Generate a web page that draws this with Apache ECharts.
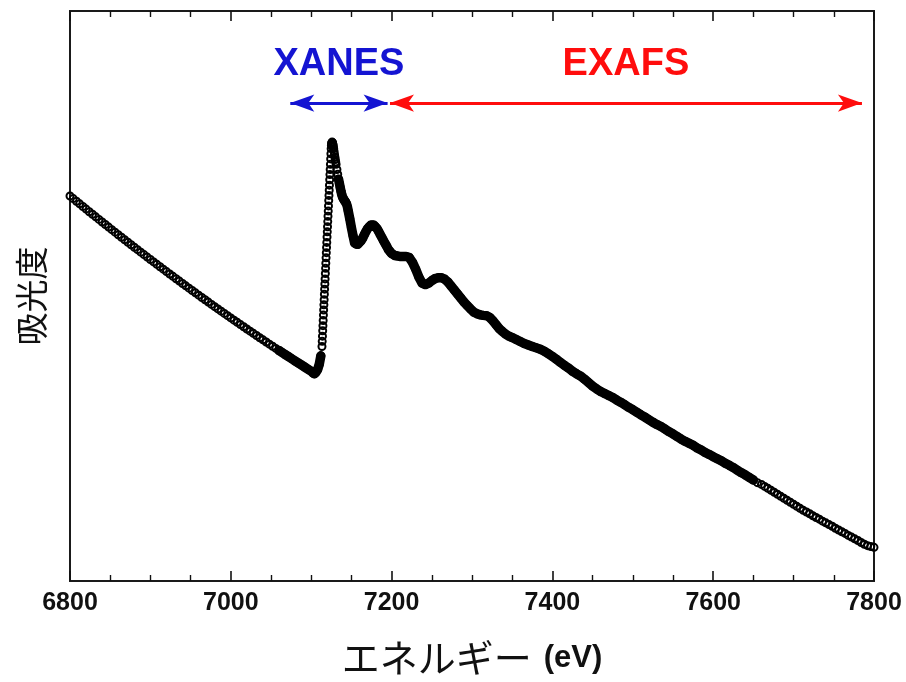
<!DOCTYPE html>
<html>
<head>
<meta charset="utf-8">
<script src="https://cdn.jsdelivr.net/npm/echarts@6/dist/echarts.min.js"></script>
<style>
  html, body { margin: 0; padding: 0; background: #ffffff; }
  #chart { width: 906px; height: 682px; }
</style>
</head>
<body>
<div id="chart"></div>
<script>
// ---- Fe K-edge absorption spectrum (energy in eV, absorbance in arb. units) ----

// pre-edge region
const preEdgeEnergy = [
  6800, 6804, 6808, 6812, 6816, 6820, 6824, 6828, 6832, 6836,
  6840, 6844, 6848, 6852, 6856, 6860, 6864, 6868, 6872, 6876,
  6880, 6884, 6888, 6892, 6896, 6900, 6904, 6908, 6912, 6916,
  6920, 6924, 6928, 6932, 6936, 6940, 6944, 6948, 6952, 6956,
  6960, 6964, 6968, 6972, 6976, 6980, 6984, 6988, 6992, 6996,
  7000, 7004, 7008, 7012, 7016, 7020, 7024, 7028, 7032, 7036,
  7040, 7044, 7048, 7052, 7056, 7060, 7064, 7068, 7072, 7076,
  7080, 7084, 7088, 7092, 7096, 7100,
  7102, 7104, 7106, 7108, 7110, 7112
];
const preEdgeAbs = [
  1.3510, 1.3417, 1.3325, 1.3233, 1.3141, 1.3050, 1.2958, 1.2868, 1.2777, 1.2687,
  1.2597, 1.2507, 1.2417, 1.2328, 1.2239, 1.2151, 1.2062, 1.1974, 1.1887, 1.1799,
  1.1712, 1.1625, 1.1538, 1.1452, 1.1366, 1.1281, 1.1195, 1.1110, 1.1025, 1.0941,
  1.0856, 1.0772, 1.0689, 1.0605, 1.0522, 1.0439, 1.0357, 1.0274, 1.0192, 1.0111,
  1.0029, 0.9948, 0.9867, 0.9787, 0.9706, 0.9627, 0.9547, 0.9467, 0.9388, 0.9310,
  0.9231, 0.9153, 0.9075, 0.8997, 0.8920, 0.8843, 0.8766, 0.8689, 0.8613, 0.8537,
  0.8462, 0.8386, 0.8311, 0.8236, 0.8162, 0.8088, 0.8014, 0.7940, 0.7867, 0.7794,
  0.7721, 0.7649, 0.7576, 0.7505, 0.7433, 0.7362,
  0.730, 0.727, 0.731, 0.742, 0.760, 0.790
];

// absorption edge and white line
const edgeEnergy = [
  7113.4, 7113.7, 7114.0, 7114.3, 7114.6, 7114.9, 7115.2, 7115.5, 7115.8, 7116.1,
  7116.4, 7116.7, 7117.0, 7117.3, 7117.6, 7117.9, 7118.2, 7118.5, 7118.8, 7119.1,
  7119.4, 7119.7, 7120.0, 7120.3, 7120.6, 7120.9, 7121.2, 7121.5, 7121.8, 7122.1,
  7122.4, 7122.7, 7123.0, 7123.3, 7123.6, 7123.9, 7124.2, 7124.5, 7124.8, 7125.1,
  7125.4, 7125.7, 7126.0, 7126.3, 7126.6, 7126.9, 7127.2
];
const edgeAbs = [
  0.823, 0.841, 0.859, 0.878, 0.896, 0.914, 0.933, 0.951, 0.969, 0.987,
  1.006, 1.024, 1.042, 1.060, 1.079, 1.097, 1.115, 1.134, 1.152, 1.170,
  1.188, 1.207, 1.225, 1.243, 1.261, 1.280, 1.298, 1.316, 1.335, 1.353,
  1.371, 1.389, 1.408, 1.426, 1.444, 1.462, 1.481, 1.499, 1.517, 1.528,
  1.535, 1.538, 1.540, 1.539, 1.537, 1.533, 1.530
];

// post-edge (EXAFS oscillations)
const postEdgeEnergy = [
  7127.6, 7128.0, 7128.5, 7129.0, 7129.5, 7130.0, 7130.5, 7131.0, 7132, 7133,
  7134, 7135, 7136, 7137, 7138, 7139, 7140, 7141, 7142, 7143,
  7144, 7145, 7146, 7148, 7150, 7152, 7154, 7156, 7158, 7160,
  7162, 7164, 7166, 7168, 7170, 7172, 7174, 7176, 7178, 7180,
  7182, 7184, 7186, 7188, 7190, 7192, 7194, 7196, 7198, 7200,
  7202, 7204, 7206, 7210, 7214, 7218, 7222, 7226, 7230, 7234,
  7238, 7242, 7246, 7250, 7254, 7258, 7262, 7266, 7270, 7274,
  7278, 7282, 7286, 7290, 7294, 7298, 7302, 7306, 7310, 7314,
  7318, 7322, 7326, 7330, 7334, 7338, 7342, 7346, 7350, 7355,
  7360, 7365, 7370, 7375, 7380, 7385, 7390, 7395, 7400, 7405,
  7410, 7415, 7420, 7425, 7430, 7435, 7440, 7445, 7450, 7455,
  7460, 7465, 7470, 7475, 7480, 7485, 7490, 7495, 7500, 7505,
  7510, 7515, 7520, 7525, 7530, 7535, 7540, 7545, 7550, 7555,
  7560, 7565, 7570, 7575, 7580, 7585, 7590, 7595, 7600, 7605,
  7610, 7615, 7620, 7625, 7630, 7635, 7640, 7645, 7650, 7655,
  7660, 7664, 7668, 7672, 7676, 7680, 7684, 7688, 7692, 7696,
  7700, 7704, 7708, 7712, 7716, 7720, 7724, 7728, 7732, 7736,
  7740, 7744, 7748, 7752, 7756, 7760, 7764, 7768, 7772, 7776,
  7780, 7784, 7788, 7792, 7796, 7800
];
const postEdgeAbs = [
  1.524, 1.517, 1.507, 1.497, 1.488, 1.479, 1.470, 1.462, 1.444, 1.427,
  1.410, 1.396, 1.382, 1.368, 1.356, 1.347, 1.340, 1.337, 1.333, 1.330,
  1.323, 1.313, 1.299, 1.271, 1.240, 1.212, 1.186, 1.181, 1.182, 1.188,
  1.194, 1.203, 1.215, 1.226, 1.236, 1.243, 1.248, 1.250, 1.248, 1.243,
  1.236, 1.226, 1.215, 1.205, 1.194, 1.184, 1.174, 1.163, 1.156, 1.149,
  1.146, 1.142, 1.141, 1.139, 1.139, 1.139, 1.135, 1.118, 1.094, 1.066,
  1.045, 1.040, 1.045, 1.054, 1.061, 1.064, 1.064, 1.059, 1.049, 1.035,
  1.021, 1.007, 0.993, 0.979, 0.967, 0.955, 0.944, 0.938, 0.934, 0.932,
  0.931, 0.925, 0.913, 0.899, 0.885, 0.875, 0.866, 0.859, 0.854, 0.847,
  0.840, 0.833, 0.828, 0.823, 0.818, 0.813, 0.806, 0.797, 0.788, 0.778,
  0.767, 0.757, 0.747, 0.736, 0.727, 0.719, 0.708, 0.696, 0.684, 0.674,
  0.665, 0.658, 0.651, 0.644, 0.635, 0.627, 0.618, 0.609, 0.601, 0.592,
  0.583, 0.575, 0.566, 0.557, 0.549, 0.542, 0.533, 0.524, 0.516, 0.507,
  0.498, 0.490, 0.483, 0.476, 0.467, 0.460, 0.451, 0.444, 0.436, 0.429,
  0.422, 0.413, 0.406, 0.398, 0.389, 0.380, 0.372, 0.363, 0.354, 0.345,
  0.339, 0.332, 0.325, 0.318, 0.311, 0.304, 0.297, 0.290, 0.283, 0.276,
  0.269, 0.262, 0.255, 0.248, 0.242, 0.236, 0.229, 0.223, 0.217, 0.210,
  0.204, 0.198, 0.192, 0.185, 0.179, 0.173, 0.167, 0.160, 0.154, 0.148,
  0.142, 0.135, 0.129, 0.124, 0.121, 0.118
];

// spectral regions (eV)
const regionNames = ['XANES', 'EXAFS'];
const regionSpans = [[7074, 7195], [7198, 7785]];

// x-axis ticks (eV)
const xMin = 6800, xMax = 7800, xStep = 200;

// ---- drawing ----
const regionColors = ['#1414d2', '#ff0d0d'];
const arrowLevel = 1.677;                 // absorbance at which the range arrows sit
const denseSpans = [[7060, 7113], [7134, 7652]]; // stretches where the markers merge into a band
const ink = '#111111';

const energy = preEdgeEnergy.concat(edgeEnergy, postEdgeEnergy);
const absorbance = preEdgeAbs.concat(edgeAbs, postEdgeAbs);
const points = energy.map((e, i) => [e, absorbance[i]]);

const bandSeries = denseSpans.map(([a, b]) => ({
  type: 'line',
  silent: true,
  showSymbol: false,
  symbol: 'none',
  z: 1,
  data: points.filter(p => p[0] >= a && p[0] <= b),
  lineStyle: { color: '#000', width: 9.5, cap: 'round', join: 'round' }
}));

const regionLines = regionSpans.map((span, i) => [
  {
    coord: [span[0], arrowLevel],
    lineStyle: { color: regionColors[i], width: 3, type: 'solid' },
    label: {
      show: true,
      position: 'middle',
      formatter: regionNames[i],
      color: regionColors[i],
      fontSize: 38,
      fontWeight: 'bold',
      fontFamily: 'Liberation Sans, Arial, sans-serif',
      distance: 20
    }
  },
  { coord: [span[1], arrowLevel] }
]);

const tickStyle = { color: ink, width: 1.6 };
function xAxisDef(pos, withLabels) {
  return {
    type: 'value',
    position: pos,
    min: xMin,
    max: xMax,
    interval: xStep,
    axisLine: { show: false },
    axisTick: { show: true, inside: true, length: 10, lineStyle: tickStyle },
    minorTick: { show: true, splitNumber: 4, length: 6, lineStyle: { color: ink, width: 1.4 } },
    splitLine: { show: false },
    minorSplitLine: { show: false },
    axisLabel: {
      show: withLabels,
      margin: 10,
      showMinLabel: true,
      showMaxLabel: true,
      formatter: v => String(v),
      color: ink,
      fontSize: 25,
      fontWeight: 'bold',
      fontFamily: 'Liberation Sans, Arial, sans-serif'
    }
  };
}

const bottomAxis = xAxisDef('bottom', true);
bottomAxis.name = '{k|エネルギー}{u|(eV)}';
bottomAxis.nameLocation = 'middle';
bottomAxis.nameGap = 58;
bottomAxis.nameTextStyle = {
  color: ink,
  rich: {
    k: { fontSize: 38, fontFamily: 'Noto Sans CJK JP', color: ink },
    u: { fontSize: 31, fontWeight: 'bold', fontFamily: 'Liberation Sans, Arial, sans-serif', color: ink, padding: [0, 0, 0, 12] }
  }
};
const topAxis = xAxisDef('top', false);

const chart = echarts.init(document.getElementById('chart'), null, { renderer: 'canvas' });
chart.setOption({
  animation: false,
  backgroundColor: '#ffffff',
  grid: {
    left: 70, right: 32, top: 11, bottom: 95,
    show: true, borderColor: '#1a1a1a', borderWidth: 2, backgroundColor: 'transparent'
  },
  xAxis: [bottomAxis, topAxis],
  yAxis: {
    type: 'value',
    min: 0,
    max: 2,
    name: '吸光度',
    nameLocation: 'middle',
    nameGap: 22,
    nameTextStyle: { fontSize: 33, fontFamily: 'Noto Sans CJK JP', color: ink },
    axisLine: { show: false },
    axisTick: { show: false },
    axisLabel: { show: false },
    splitLine: { show: false }
  },
  series: bandSeries.concat([
    {
      type: 'scatter',
      silent: true,
      z: 2,
      data: points,
      symbol: 'circle',
      symbolSize: 7,
      itemStyle: { color: 'rgba(0,0,0,0)', borderColor: '#000', borderWidth: 2, opacity: 1 }
    },
    {
      type: 'line',
      silent: true,
      data: [],
      markLine: {
        silent: true,
        animation: false,
        symbol: ['arrow', 'arrow'],
        symbolSize: [13, 24],
        data: regionLines
      }
    }
  ])
});
</script>
</body>
</html>
